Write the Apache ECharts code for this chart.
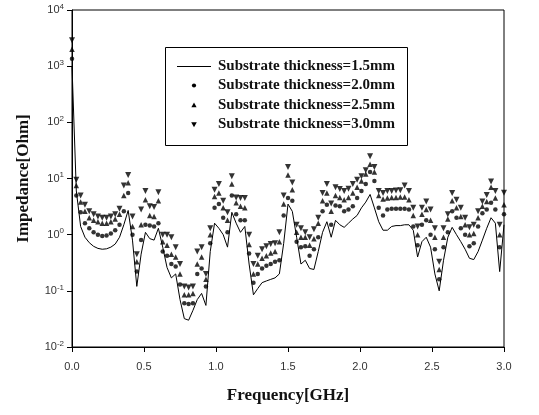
<!DOCTYPE html>
<html><head><meta charset="utf-8">
<script src="https://cdn.jsdelivr.net/npm/echarts@6/dist/echarts.min.js"></script>
<style>html,body{margin:0;padding:0;background:#fff}#c{width:539px;height:415px}</style>
</head><body><div id="c"></div>
<script>
// Frequency samples [GHz]
const freq = [0.00,0.03,0.06,0.09,0.12,0.15,0.18,0.21,0.24,0.27,
  0.30,0.33,0.36,0.39,0.42,0.45,0.48,0.51,0.54,0.57,
  0.60,0.63,0.66,0.69,0.72,0.75,0.78,0.81,0.84,0.87,
  0.90,0.93,0.96,0.99,1.02,1.05,1.08,1.11,1.14,1.17,
  1.20,1.23,1.26,1.29,1.32,1.35,1.38,1.41,1.44,1.47,
  1.50,1.53,1.56,1.59,1.62,1.65,1.68,1.71,1.74,1.77,
  1.80,1.83,1.86,1.89,1.92,1.95,1.98,2.01,2.04,2.07,
  2.10,2.13,2.16,2.19,2.22,2.25,2.28,2.31,2.34,2.37,
  2.40,2.43,2.46,2.49,2.52,2.55,2.58,2.61,2.64,2.67,
  2.70,2.73,2.76,2.79,2.82,2.85,2.88,2.91,2.94,2.97,
  3.00];
// Impedance [Ohm], substrate thickness 1.5 mm (solid line)
const thick15 = [1000,6,1.4,0.9,0.72,0.62,0.57,0.55,0.56,0.6,
  0.68,0.9,1.5,2.7,0.8,0.12,0.45,1.1,0.85,0.8,
  1.3,0.6,0.26,0.17,0.2,0.07,0.032,0.03,0.045,0.07,
  0.09,0.055,0.5,1.6,1.3,1.0,0.6,2.5,1.6,1.1,
  1.4,0.3,0.085,0.11,0.14,0.15,0.16,0.17,0.2,0.7,
  3.5,2.6,0.9,0.3,0.35,0.25,0.24,0.5,1.1,1.7,
  0.9,1.8,1.5,1.35,1.6,1.9,2.2,3.0,3.8,5.2,
  3.0,1.7,1.2,1.2,1.4,1.45,1.45,1.5,1.5,1.2,
  0.4,0.75,0.9,0.6,0.2,0.1,0.35,0.9,1.35,1.0,
  0.75,0.55,0.38,0.36,0.5,0.8,1.3,2.0,1.6,0.22,
  1.5];
// 2.0 mm (dots)
const thick20 = [1350,5,2.5,1.6,1.3,1.1,1.0,0.95,0.97,1.05,
  1.2,1.5,2.6,5.5,1.0,0.22,0.8,1.5,1.45,1.4,
  1.6,0.5,0.42,0.3,0.27,0.13,0.06,0.058,0.06,0.2,
  0.25,0.12,0.7,3.0,3.5,2.0,1.1,5.0,2.3,1.8,
  1.8,0.46,0.14,0.2,0.25,0.28,0.3,0.33,0.35,2.2,
  4.5,4.0,0.75,0.6,0.62,0.42,0.55,0.9,2.6,3.4,
  1.5,3.3,3.2,2.6,2.8,3.2,4.5,6.0,8.0,13,
  9,3.0,2.2,2.8,2.9,2.9,2.9,2.9,2.8,1.4,
  0.65,1.5,1.8,1.0,0.55,0.16,0.6,1.1,2.6,2.0,
  1.3,1.0,0.62,0.7,1.4,2.4,2.8,3.7,2.8,0.6,
  2.3];
// 2.5 mm (triangles)
const thick25 = [2000,7.5,3.8,2.6,2.0,1.8,1.7,1.6,1.6,1.7,
  1.9,2.3,5.0,8.4,1.4,0.33,1.5,4.2,2.2,2.1,
  4.0,0.75,0.65,0.45,0.4,0.2,0.085,0.085,0.09,0.3,
  0.4,0.16,1.0,4.8,5.5,3.0,1.8,8.0,3.7,3.2,
  3.0,0.67,0.2,0.3,0.38,0.42,0.47,0.5,0.75,3.5,
  11.5,6.3,1.1,0.9,0.9,0.65,0.85,1.6,4.0,5.5,
  2.6,5.0,4.6,4.2,4.6,5.5,7.0,9,12,18,
  13,5.0,4.3,4.5,4.6,4.6,4.7,4.7,4.2,2.2,
  1.0,2.3,2.8,1.8,0.9,0.24,0.9,1.9,4.0,3.0,
  2.1,1.5,1.0,1.05,2.0,3.2,3.9,7.0,4.5,1.0,
  3.4];
// 3.0 mm (inverted triangles)
const thick30 = [2900,9.5,5,3.4,2.6,2.3,2.1,2.0,2.0,2.1,
  2.3,2.9,7.5,11.5,2.1,0.45,2.8,6.0,3.2,3.1,
  5.7,1.0,1.0,0.9,0.6,0.3,0.12,0.115,0.12,0.5,
  0.6,0.2,1.3,6.3,8.0,4.0,2.5,11,4.6,4.5,
  4.5,1.0,0.3,0.42,0.55,0.62,0.68,0.7,1.1,5.0,
  16,8.5,1.5,1.3,1.1,0.9,1.25,2.0,5.5,8.0,
  3.6,7.0,6.5,6.0,6.6,8.0,9.5,11,14,25,
  16,6.0,5.5,6.0,6.0,6.1,6.2,7.5,6.0,3.0,
  1.4,3.0,3.9,2.8,1.3,0.33,1.3,2.3,5.5,4.2,
  3.0,2.0,1.35,1.5,2.6,3.9,5.1,8.8,6.0,1.5,
  5.6];
const seriesNames = ['Substrate thickness=1.5mm','Substrate thickness=2.0mm',
  'Substrate thickness=2.5mm','Substrate thickness=3.0mm'];

const chart = echarts.init(document.getElementById('c'), null, {renderer:'canvas'});
const pairs = arr => freq.map((f,i)=>[f,arr[i]]);
const serif = 'Liberation Serif';
const sans = 'Liberation Sans';

// hand-drawn legend box (graphic), positioned like the original
const lgLeft = 165, lgTop = 47, lgW = 242, lgH = 98;
const rowY = [66, 85.5, 105, 124.5];
const mkX = 194;
const legendGraphics = [
  {type:'rect',shape:{x:lgLeft+0.5,y:lgTop+0.5,width:lgW,height:lgH},
   style:{fill:'#fff',stroke:'#000',lineWidth:1},z:10},
  {type:'line',shape:{x1:177,y1:rowY[0]+0.5,x2:211,y2:rowY[0]+0.5},
   style:{stroke:'#000',lineWidth:1},z:11},
  {type:'circle',shape:{cx:mkX,cy:rowY[1],r:2.1},style:{fill:'#000'},z:11},
  {type:'polygon',shape:{points:[[mkX,rowY[2]-2.6],[mkX+2.6,rowY[2]+2.2],[mkX-2.6,rowY[2]+2.2]]},
   style:{fill:'#000'},z:11},
  {type:'polygon',shape:{points:[[mkX,rowY[3]+2.8],[mkX+2.8,rowY[3]-2.2],[mkX-2.8,rowY[3]-2.2]]},
   style:{fill:'#000'},z:11}
].concat(seriesNames.map((n,i)=>({
  type:'text',x:218,y:rowY[i],z:11,
  style:{text:n,fill:'#111',font:'bold 15px "Liberation Serif"',verticalAlign:'middle',align:'left'}
})));

const option = {
  animation:false,
  backgroundColor:'#fff',
  grid:{left:72,right:35,top:10,bottom:68,show:true,borderColor:'#000',borderWidth:1,backgroundColor:'transparent'},
  xAxis:{
    type:'value',min:0,max:3,interval:0.5,
    name:'Frequency[GHz]',nameLocation:'middle',nameGap:40,
    nameTextStyle:{fontFamily:serif,fontWeight:'bold',fontSize:17,color:'#111'},
    axisLine:{show:true,lineStyle:{color:'#000',width:1}},
    axisTick:{show:true,inside:false,length:5,lineStyle:{color:'#000'}},
    axisLabel:{margin:14,fontFamily:sans,fontSize:11,color:'#333',formatter:v=>v.toFixed(1)},
    splitLine:{show:false}
  },
  yAxis:{
    type:'log',logBase:10,min:0.01,max:10000,interval:1,
    name:'Impedance[Ohm]',nameLocation:'middle',nameGap:40,nameRotate:90,
    nameTextStyle:{fontFamily:serif,fontWeight:'bold',fontSize:17,color:'#111'},
    axisLine:{show:true,lineStyle:{color:'#000',width:1}},
    axisTick:{show:true,inside:false,length:5,lineStyle:{color:'#000'}},
    axisLabel:{margin:8,
      formatter:v=>{const e=Math.round(Math.log10(v));return '{b|10}{s|'+e+'}';},
      rich:{b:{fontFamily:sans,fontSize:11,color:'#333'},
            s:{fontFamily:sans,fontSize:8,color:'#333',padding:[0,0,7,0]}}},
    splitLine:{show:false}, minorTick:{show:false}
  },
  graphic:legendGraphics,
  series:[
    {name:seriesNames[0],type:'line',data:pairs(thick15),symbol:'none',
     lineStyle:{color:'#000',width:1},itemStyle:{color:'#000'},z:2},
    {name:seriesNames[1],type:'scatter',data:pairs(thick20),symbol:'circle',symbolSize:4.5,
     itemStyle:{color:'#000'},z:3},
    {name:seriesNames[2],type:'scatter',data:pairs(thick25),symbol:'triangle',symbolSize:5.5,
     itemStyle:{color:'#000'},z:3},
    {name:seriesNames[3],type:'scatter',data:pairs(thick30),symbol:'triangle',symbolRotate:180,symbolSize:6,
     itemStyle:{color:'#000'},z:3}
  ]
};
chart.setOption(option);
</script>
</body></html>
